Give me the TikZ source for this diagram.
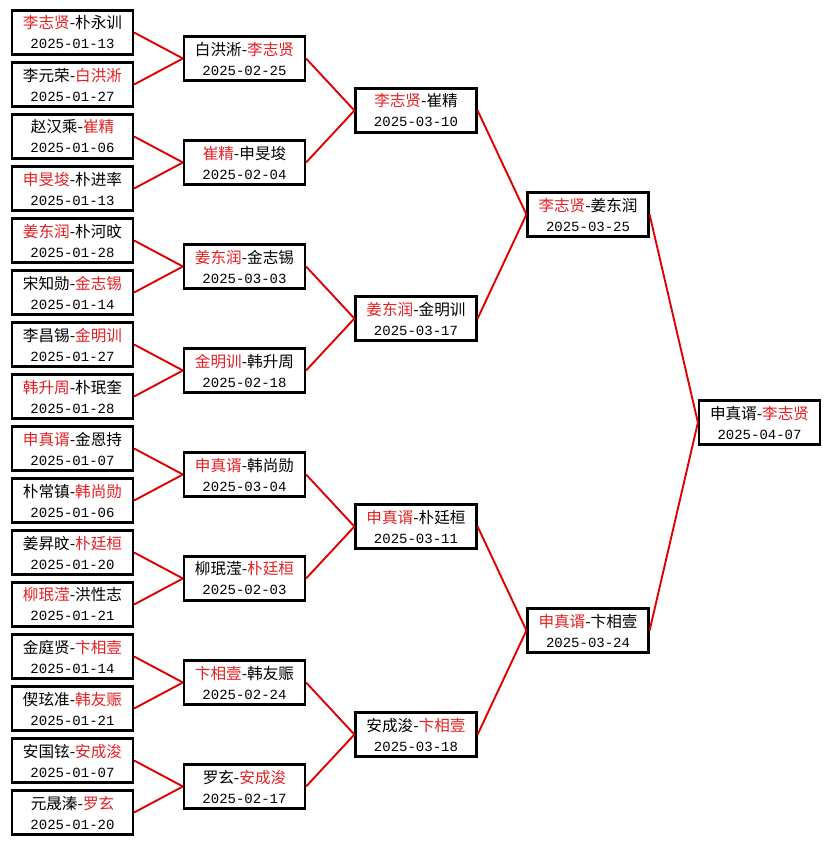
\documentclass[tikz,border=0pt]{standalone}
\usepackage{fontspec}
\newfontfamily\cjk{Noto Sans CJK SC}
\newfontfamily\datefont{Liberation Mono}
\definecolor{winred}{RGB}{228,32,36}
\definecolor{linkred}{RGB}{225,0,0}
\newcommand{\win}[1]{\textcolor{winred}{#1}}
\newcommand{\bout}[2]{#1\\{\datefont\fontsize{14}{20}\selectfont #2}}
\tikzset{
  match/.style={draw=black,line width=2.2pt,fill=white,minimum width=121pt,
    minimum height=44pt,inner sep=0pt,align=center,
    font=\cjk\fontsize{15.6}{20}\selectfont},
  link/.style={draw=linkred,line width=1.9pt}
}
\begin{document}
\begin{tikzpicture}[x=1pt,y=-1pt]
\useasboundingbox (0,0) rectangle (830,845);

% first round
\node[match] (a1) at (72.5,32.5) {\bout{\win{李志贤}-朴永训}{2025-01-13}};
\node[match] (a2) at (72.5,84.5) {\bout{李元荣-\win{白洪淅}}{2025-01-27}};
\node[match] (a3) at (72.5,136.5) {\bout{赵汉乘-\win{崔精}}{2025-01-06}};
\node[match] (a4) at (72.5,188.5) {\bout{\win{申旻埈}-朴进率}{2025-01-13}};
\node[match] (a5) at (72.5,240.5) {\bout{\win{姜东润}-朴河旼}{2025-01-28}};
\node[match] (a6) at (72.5,292.5) {\bout{宋知勋-\win{金志锡}}{2025-01-14}};
\node[match] (a7) at (72.5,344.5) {\bout{李昌锡-\win{金明训}}{2025-01-27}};
\node[match] (a8) at (72.5,396.5) {\bout{\win{韩升周}-朴珉奎}{2025-01-28}};
\node[match] (a9) at (72.5,448.5) {\bout{\win{申真谞}-金恩持}{2025-01-07}};
\node[match] (a10) at (72.5,500.5) {\bout{朴常镇-\win{韩尚勋}}{2025-01-06}};
\node[match] (a11) at (72.5,552.5) {\bout{姜昇旼-\win{朴廷桓}}{2025-01-20}};
\node[match] (a12) at (72.5,604.5) {\bout{\win{柳珉滢}-洪性志}{2025-01-21}};
\node[match] (a13) at (72.5,656.5) {\bout{金庭贤-\win{卞相壹}}{2025-01-14}};
\node[match] (a14) at (72.5,708.5) {\bout{偰玹准-\win{韩友赈}}{2025-01-21}};
\node[match] (a15) at (72.5,760.5) {\bout{安国铉-\win{安成浚}}{2025-01-07}};
\node[match] (a16) at (72.5,812.5) {\bout{元晟溱-\win{罗玄}}{2025-01-20}};

% second round
\node[match] (b1) at (244.5,58.5) {\bout{白洪淅-\win{李志贤}}{2025-02-25}};
\node[match] (b2) at (244.5,162.5) {\bout{\win{崔精}-申旻埈}{2025-02-04}};
\node[match] (b3) at (244.5,266.5) {\bout{\win{姜东润}-金志锡}{2025-03-03}};
\node[match] (b4) at (244.5,370.5) {\bout{\win{金明训}-韩升周}{2025-02-18}};
\node[match] (b5) at (244.5,474.5) {\bout{\win{申真谞}-韩尚勋}{2025-03-04}};
\node[match] (b6) at (244.5,578.5) {\bout{柳珉滢-\win{朴廷桓}}{2025-02-03}};
\node[match] (b7) at (244.5,682.5) {\bout{\win{卞相壹}-韩友赈}{2025-02-24}};
\node[match] (b8) at (244.5,786.5) {\bout{罗玄-\win{安成浚}}{2025-02-17}};

% quarter finals
\node[match] (c1) at (416,110.5) {\bout{\win{李志贤}-崔精}{2025-03-10}};
\node[match] (c2) at (416,318.5) {\bout{\win{姜东润}-金明训}{2025-03-17}};
\node[match] (c3) at (416,526.5) {\bout{\win{申真谞}-朴廷桓}{2025-03-11}};
\node[match] (c4) at (416,734.5) {\bout{安成浚-\win{卞相壹}}{2025-03-18}};

% semi finals
\node[match] (d1) at (588,214.5) {\bout{\win{李志贤}-姜东润}{2025-03-25}};
\node[match] (d2) at (588,630.5) {\bout{\win{申真谞}-卞相壹}{2025-03-24}};

% final
\node[match] (final) at (759.5,422.5) {\bout{申真谞-\win{李志贤}}{2025-04-07}};

\draw[link] (a1.east) -- (b1.west);  \draw[link] (a2.east) -- (b1.west);
\draw[link] (a3.east) -- (b2.west);  \draw[link] (a4.east) -- (b2.west);
\draw[link] (a5.east) -- (b3.west);  \draw[link] (a6.east) -- (b3.west);
\draw[link] (a7.east) -- (b4.west);  \draw[link] (a8.east) -- (b4.west);
\draw[link] (a9.east) -- (b5.west);  \draw[link] (a10.east) -- (b5.west);
\draw[link] (a11.east) -- (b6.west); \draw[link] (a12.east) -- (b6.west);
\draw[link] (a13.east) -- (b7.west); \draw[link] (a14.east) -- (b7.west);
\draw[link] (a15.east) -- (b8.west); \draw[link] (a16.east) -- (b8.west);

\draw[link] (b1.east) -- (c1.west); \draw[link] (b2.east) -- (c1.west);
\draw[link] (b3.east) -- (c2.west); \draw[link] (b4.east) -- (c2.west);
\draw[link] (b5.east) -- (c3.west); \draw[link] (b6.east) -- (c3.west);
\draw[link] (b7.east) -- (c4.west); \draw[link] (b8.east) -- (c4.west);

\draw[link] (c1.east) -- (d1.west); \draw[link] (c2.east) -- (d1.west);
\draw[link] (c3.east) -- (d2.west); \draw[link] (c4.east) -- (d2.west);

\draw[link] (d1.east) -- (final.west); \draw[link] (d2.east) -- (final.west);
\end{tikzpicture}
\end{document}
